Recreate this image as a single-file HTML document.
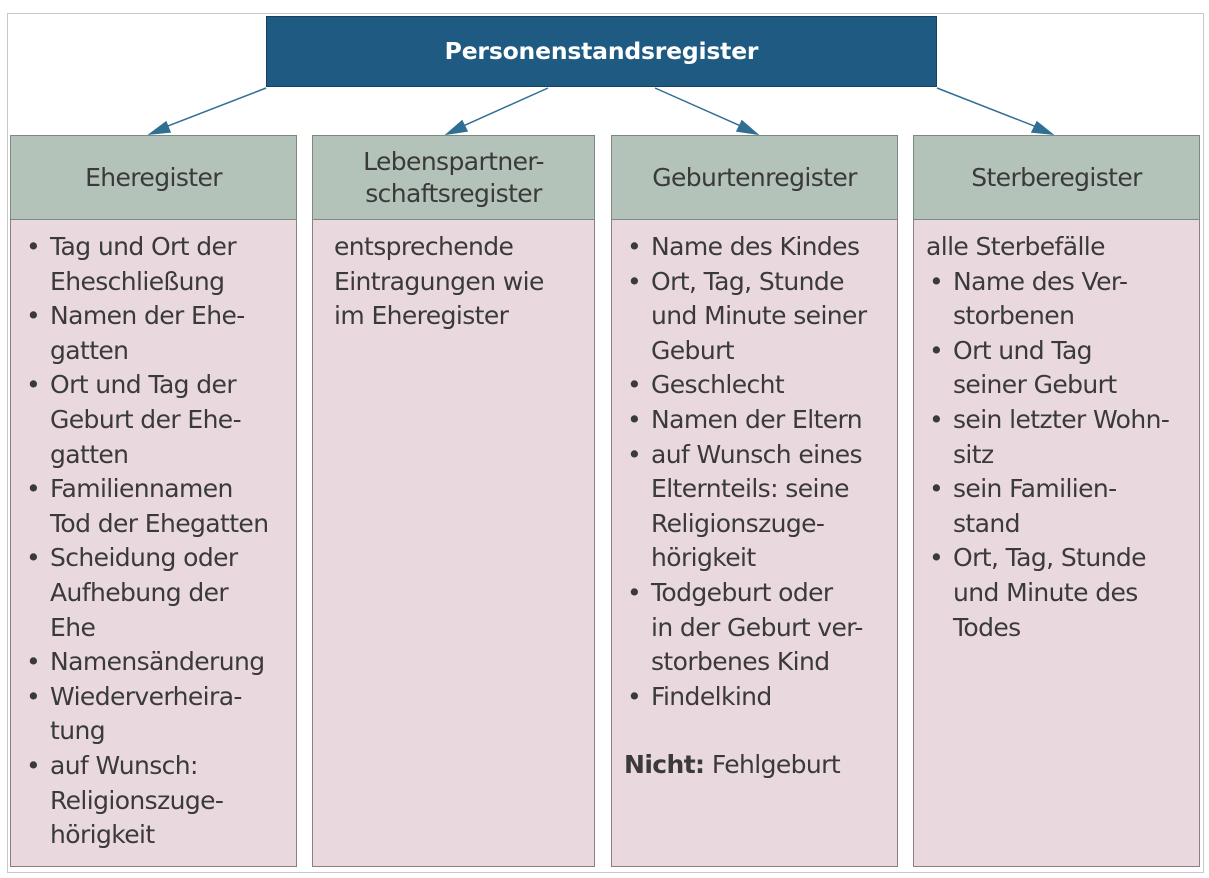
<!DOCTYPE html>
<html><head><meta charset="utf-8"><style>
body{margin:0;width:1209px;height:878px;background:#fff;position:relative;overflow:hidden;font-family:"DejaVu Sans","Liberation Sans",sans-serif;}
.frame{position:absolute;left:7px;top:13px;width:1195px;height:858px;border:1px solid #c8c8c8;}
.top{position:absolute;left:266px;top:16px;width:671px;height:71px;background:#1f5a82;border:1px solid #17405e;box-sizing:border-box;color:#fff;font-weight:bold;font-size:23.5px;text-align:center;line-height:68px;letter-spacing:-0.2px}
.h{position:absolute;top:135px;height:85px;background:#b4c3b9;border:1.5px solid #7d8a82;box-sizing:border-box;display:flex;align-items:center;justify-content:center;text-align:center;font-size:25px;color:#3a3a3a;line-height:32px;letter-spacing:-0.6px}
.b{position:absolute;top:220px;height:647px;background:#e9d9df;border:1.5px solid #8f7d85;border-top:none;box-sizing:border-box;font-size:25px;color:#3a3a3a;line-height:34.6px;padding:10px 0 0 12px;letter-spacing:-0.6px;white-space:nowrap}
ul{margin:0;padding:0;list-style:none}
li{position:relative;padding-left:27px}
li:before{content:"•";position:absolute;left:3px;top:0}
</style></head><body>
<div class="frame"></div>
<svg width="1209" height="878" style="position:absolute;left:0;top:0">
<g stroke="#2f6f93" stroke-width="1.5" fill="#2f6f93">
<line x1="266" y1="88" x2="155" y2="131"/><polygon points="150,134 166,122 170,132"/>
<line x1="548" y1="88" x2="452" y2="131"/><polygon points="447,134 462,121 467,131"/>
<line x1="655" y1="88" x2="752" y2="131"/><polygon points="757,134 737,131 742,121"/>
<line x1="937" y1="88" x2="1047" y2="131"/><polygon points="1052,134 1032,132 1037,122"/>
</g></svg>
<div class="top">Personenstandsregister</div>
<div class="h" style="left:10px;width:287px">Eheregister</div>
<div class="h" style="left:312px;width:283px">Lebenspartner-<br>schaftsregister</div>
<div class="h" style="left:611px;width:287px">Geburtenregister</div>
<div class="h" style="left:913px;width:287px">Sterberegister</div>
<div class="b" style="left:10px;width:287px"><ul>
<li>Tag und Ort der<br>Eheschließung</li>
<li>Namen der Ehe-<br>gatten</li>
<li>Ort und Tag der<br>Geburt der Ehe-<br>gatten</li>
<li>Familiennamen<br>Tod der Ehegatten</li>
<li>Scheidung oder<br>Aufhebung der<br>Ehe</li>
<li>Namensänderung</li>
<li>Wiederverheira-<br>tung</li>
<li>auf Wunsch:<br>Religionszuge-<br>hörigkeit</li></ul></div>
<div class="b" style="left:312px;width:283px;padding-left:21px">entsprechende<br>Eintragungen wie<br>im Eheregister</div>
<div class="b" style="left:611px;width:287px"><ul>
<li>Name des Kindes</li>
<li>Ort, Tag, Stunde<br>und Minute seiner<br>Geburt</li>
<li>Geschlecht</li>
<li>Namen der Eltern</li>
<li>auf Wunsch eines<br>Elternteils: seine<br>Religionszuge-<br>hörigkeit</li>
<li>Todgeburt oder<br>in der Geburt ver-<br>storbenes Kind</li>
<li>Findelkind</li></ul>
<div style="margin-top:34px"><b>Nicht:</b> Fehlgeburt</div></div>
<div class="b" style="left:913px;width:287px">alle Sterbefälle<ul>
<li>Name des Ver-<br>storbenen</li>
<li>Ort und Tag<br>seiner Geburt</li>
<li>sein letzter Wohn-<br>sitz</li>
<li>sein Familien-<br>stand</li>
<li>Ort, Tag, Stunde<br>und Minute des<br>Todes</li></ul></div>
</body></html>
